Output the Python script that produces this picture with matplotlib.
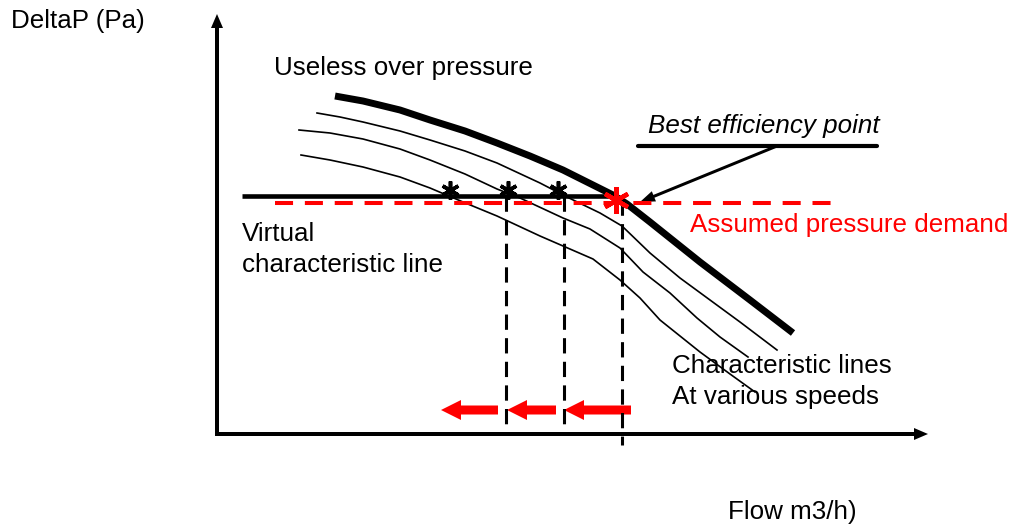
import matplotlib
matplotlib.use("Agg")
import matplotlib.pyplot as plt

plt.rcParams['font.family'] = ['Liberation Sans', 'DejaVu Sans']
plt.rcParams['lines.scale_dashes'] = False

# fan curves (flow, deltaP) in drawing units, top speed first
curve_max_x = [335, 363, 400, 430, 465, 497, 530, 563, 597, 613, 627, 650, 700, 750, 793]
curve_max_y = [96, 101, 110, 120, 131, 143, 156, 170, 187, 195, 204, 222, 262, 300, 333]
curve_a_x = [317, 340, 363, 400, 430, 465, 497, 540, 567, 600, 622, 650, 680, 710, 740, 777]
curve_a_y = [113, 117, 122, 131, 140, 151, 163, 183, 197, 213, 226, 253, 278, 300, 322, 350]
curve_b_x = [299, 330, 363, 400, 430, 465, 497, 520, 563, 590, 620, 643, 670, 697, 720, 748]
curve_b_y = [130, 133, 139, 149, 160, 174, 189, 198, 218, 229, 248, 272, 293, 318, 337, 357]
curve_c_x = [301, 330, 363, 400, 430, 463, 497, 540, 593, 620, 640, 660, 700, 730, 755]
curve_c_y = [155, 160, 167, 177, 188, 202, 216, 236, 259, 280, 298, 320, 352, 374, 392]

# virtual characteristic line and pressure demand
virtual_x = [242, 613]
virtual_y = 196
demand_x = [275, 840]
demand_y = 203
op_x = [450, 508, 558]
op_y = 190
bep = (616, 200)

# flow drop lines and shift arrows
drop_x = [506, 564, 622]
drop_top = [196, 196, 200]
drop_bottom = [434, 434, 445]
shift_tail = [498, 556, 631]
shift_head = [441, 507, 564]
shift_y = 410

origin = (217, 434)
x_end = 928
y_end = 14

fig = plt.figure(figsize=(10.14, 5.24), dpi=100)
ax = fig.add_axes([0, 0, 1, 1])
ax.set_xlim(0, 1014)
ax.set_ylim(524, 0)
ax.axis('off')

# axes with arrowheads
ax.arrow(origin[0] - 2, origin[1], x_end - origin[0] + 2, 0, width=4, head_width=12,
         head_length=14, length_includes_head=True, color='black', lw=0)
ax.arrow(origin[0], origin[1] + 2, 0, y_end - origin[1] - 2, width=4, head_width=12,
         head_length=14, length_includes_head=True, color='black', lw=0)

ax.plot(curve_max_x, curve_max_y, color='black', lw=5, solid_capstyle='butt')
for cx, cy in [(curve_a_x, curve_a_y), (curve_b_x, curve_b_y), (curve_c_x, curve_c_y)]:
    ax.plot(cx, cy, color='black', lw=1.2)

ax.plot(virtual_x, [virtual_y] * 2, color='black', lw=3.3, solid_capstyle='butt')
ax.plot(demand_x, [demand_y] * 2, color='red', lw=2.9, dashes=(13, 8.5))

for x, t, b in zip(drop_x, drop_top, drop_bottom):
    ax.plot([x, x], [t, b], color='black', lw=2.2, dashes=(11, 6))

ax.plot(op_x, [op_y] * len(op_x), ls='none', marker=(6, 2, 0), ms=13,
        mew=2.6, color='black')
ax.plot(*bep, marker=(6, 2, 0), ms=19, mew=3.2, color='red')

for t, h in zip(shift_tail, shift_head):
    ax.arrow(t, shift_y, h - t, 0, width=9, head_width=20, head_length=20,
             length_includes_head=True, color='red', lw=0)

# best efficiency callout
ax.plot([638, 877], [146, 146], color='black', lw=3, solid_capstyle='round')
ax.arrow(777, 146, bep[0] + 24 - 777, bep[1] + 2 - 146, width=3, head_width=11,
         head_length=15, length_includes_head=True, color='black', lw=0)

fs = 18.7
ax.text(11, 28, 'DeltaP (Pa)', fontsize=fs, va='baseline')
ax.text(274, 75, 'Useless over pressure', fontsize=fs, va='baseline')
ax.text(648, 133, 'Best efficiency point', fontsize=fs, style='italic', va='baseline')
ax.text(690, 232, 'Assumed pressure demand', fontsize=fs, color='red', va='baseline')
ax.text(242, 241, 'Virtual', fontsize=fs, va='baseline')
ax.text(242, 272, 'characteristic line', fontsize=fs, va='baseline')
ax.text(672, 373, 'Characteristic lines', fontsize=fs, va='baseline')
ax.text(672, 404, 'At various speeds', fontsize=fs, va='baseline')
ax.text(728, 519, 'Flow m3/h)', fontsize=fs, va='baseline')

fig.savefig('out.png', dpi=100)
